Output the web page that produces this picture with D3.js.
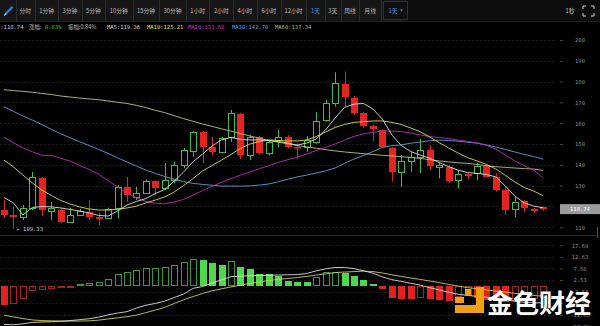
<!DOCTYPE html>
<html><head><meta charset="utf-8">
<script src="https://cdn.jsdelivr.net/npm/d3@7"></script>
<style>html,body{margin:0;padding:0;background:#000;overflow:hidden}svg{display:block}</style>
</head><body><svg id="c" width="600" height="326"></svg>
<script>
// ---------- data ----------
const openP  = [118.3,115.9,115.0,119.3,133.7,117.8,118.3,112.7,115.9,117.2,115.0,114.3,119.1,129.2,124.7,126.3,132.2,129.0,132.7,139.9,146.8,155.9,148.6,146.3,153.2,164.4,144.7,153.5,145.6,151.9,153.2,148.7,148.4,151.1,161.6,169.6,178.9,172.0,164.8,158.8,156.8,148.0,136.4,142.0,143.9,147.1,139.2,139.1,132.7,135.6,135.9,139.5,134.3,127.9,118.8,122.8,118.8,119.6];
const highP  = [123.1,119.8,120.7,136.6,134.2,122.2,119.0,119.4,118.8,123.1,116.9,119.4,130.3,134.2,129.5,133.0,132.5,140.8,141.5,148.1,156.4,156.2,153.4,153.5,166.4,165.0,154.3,154.0,152.0,156.8,154.3,150.4,153.9,165.3,171.2,184.5,184.8,173.1,165.5,159.3,157.0,148.5,144.7,146.3,152.4,149.5,141.0,139.8,137.5,135.9,140.8,140.0,135.9,129.5,124.7,123.0,119.4,120.0];
const lowP   = [114.5,109.33,113.5,118.3,115.4,113.5,112.0,112.5,115.4,113.5,111.1,114.0,114.3,122.2,123.1,126.0,125.5,127.9,131.1,138.5,143.9,140.8,144.7,145.7,151.0,142.7,142.3,145.0,144.5,148.4,148.0,142.7,146.3,150.2,160.8,168.0,168.0,164.0,157.8,151.2,148.0,131.9,129.5,136.7,136.0,137.5,133.5,131.1,128.7,133.1,132.7,133.9,127.1,115.9,114.8,117.5,117.0,118.0];
const closeP = [115.9,115.0,119.3,134.2,118.3,119.3,112.6,115.9,117.8,114.8,114.0,118.6,129.5,125.5,126.3,132.4,129.0,132.7,139.9,147.1,155.9,148.7,146.2,152.8,164.8,144.7,153.2,145.9,151.1,153.2,148.7,148.1,151.9,161.1,169.6,179.2,172.5,164.8,158.9,157.2,148.7,136.7,141.9,143.9,147.1,139.6,139.8,132.4,135.6,134.8,139.5,134.3,127.9,118.3,122.3,119.1,118.0,118.74];

const ma5  = [124.3,121.7,115.9,119.5,120.0,119.8,119.3,118.6,117.8,116.9,115.7,115.4,117.8,120.7,122.4,123.8,126.2,128.2,132.2,136.6,141.6,145.2,149.1,152.0,153.2,152.2,152.0,152.0,151.7,151.2,150.5,149.5,150.5,152.4,156.8,162.5,167.6,169.2,169.5,166.8,162.0,154.4,149.3,146.4,144.7,143.2,141.1,139.2,137.5,136.3,135.9,135.4,134.2,129.8,125.0,121.7,120.2,119.36];
const ma10 = [142.3,139.0,135.1,131.3,127.9,125.3,122.9,121.2,119.8,118.8,118.3,118.3,118.6,119.3,120.2,121.7,123.1,124.6,127.0,130.1,133.5,137.1,139.7,142.3,145.0,147.9,150.0,151.2,152.0,151.7,151.5,151.5,152.0,153.6,155.8,158.0,159.4,160.4,160.8,161.1,161.1,160.4,159.4,157.7,155.9,153.4,150.7,148.1,145.7,143.5,141.9,140.2,138.0,134.9,131.8,129.1,127.4,125.21];
const ma20 = [153.2,150.6,148.1,146.3,144.6,144.5,143.2,141.8,139.7,137.8,135.5,132.4,129.4,126.5,124.1,122.4,121.6,121.3,122.2,123.4,125.5,127.7,129.7,131.6,133.4,135.1,136.6,138.2,139.6,141.2,142.5,143.7,145.2,146.9,148.4,150.0,151.9,153.7,154.9,155.6,156.3,156.2,156.0,155.3,154.4,153.6,153.1,152.7,151.9,151.3,150.6,149.4,147.6,144.7,141.9,139.6,137.6,133.6];
const ma30 = [167.9,165.7,163.5,161.5,159.3,157.1,154.9,153.0,151.1,149.3,147.4,145.5,143.4,141.4,139.4,137.5,135.9,134.4,133.1,131.9,131.1,130.6,130.2,129.8,129.8,129.8,129.9,130.3,130.8,131.9,133.1,134.2,135.1,136.1,137.1,138.5,140.7,142.8,144.5,146.4,148.4,149.2,149.6,150.4,151.0,151.6,151.9,151.7,151.4,150.9,150.4,149.6,148.6,147.4,146.2,145.0,144.0,142.7];
const ma60 = [176.1,175.7,175.3,174.9,174.3,173.8,173.1,172.6,172.1,171.7,171.3,170.7,170.1,169.5,168.6,167.5,166.2,165.1,163.6,162.2,160.9,159.6,158.5,157.3,156.2,155.0,153.9,152.8,151.7,150.9,150.1,149.3,148.6,148.0,147.3,146.7,146.2,145.8,145.4,145.0,144.6,144.3,143.9,143.6,143.1,142.5,141.9,141.4,141.0,140.7,140.2,139.6,139.1,138.8,138.5,138.2,138.0,137.34];

const macdHist = [-8.4,-8.0,-5.8,-2.2,-1.9,-1.2,-1.1,-0.7,1.0,1.3,1.8,2.9,5.1,6.1,6.9,7.6,7.7,8.0,9.0,10.2,11.7,11.2,10.1,9.3,10.8,8.0,7.3,5.1,5.0,4.4,2.1,1.8,1.5,4.0,5.9,6.2,5.4,4.4,2.5,0.7,-1.4,-5.5,-5.8,-5.9,-5.3,-5.8,-6.2,-6.5,-5.0,-4.6,-5.5,-6.0,-6.5,-7.0,-6.5,-6.0,-5.8,-5.5];
const dif = [-16.9,-17.0,-16.6,-16.0,-15.8,-15.7,-15.5,-15.2,-14.8,-14.4,-13.7,-12.7,-11.9,-11.3,-9.7,-8.5,-7.7,-6.7,-5.1,-3.6,-1.1,-0.3,1.2,2.6,4.0,4.2,4.4,4.5,4.6,4.7,4.8,4.9,5.4,6.5,7.4,8.0,8.0,7.5,6.6,5.5,3.9,2.7,1.9,1.1,0.3,-0.8,-1.8,-2.8,-3.7,-4.2,-4.6,-5.0,-5.4,-6.0,-6.8,-7.2,-7.4,-7.5];
const dea = [-12.8,-13.6,-14.3,-14.9,-15.2,-15.3,-15.4,-15.4,-15.4,-15.3,-15.0,-14.5,-14.0,-13.5,-12.8,-11.7,-10.6,-9.4,-7.7,-6.1,-4.7,-3.3,-2.2,-1.3,-0.5,0.3,1.1,1.7,2.3,2.8,3.2,3.6,4.1,4.7,5.2,5.8,6.0,6.2,6.4,6.2,5.6,4.8,4.1,3.4,2.8,2.1,1.4,0.6,-0.1,-0.8,-1.3,-1.8,-2.3,-2.8,-3.3,-3.8,-4.2,-4.6];

const priceTicks = [110,120,130,140,150,160,170,180,190,200];
const macdTicks = [17.69,12.63,7.58,2.53,-2.53,-7.58,-12.63,-17.69];
const lastPrice = 118.74;
const lowMark = {index:1, value:109.33, label:"← 109.33"};

const toolbarLabels = ["分时","1分钟","3分钟","5分钟","10分钟","15分钟","30分钟","1小时","2小时","4小时","6小时","12小时","1天","3天","周线","月线"];
const toolbarEdges  = [15.7,35,58.3,81.7,105,132.7,159.3,186,209.3,233.3,256.7,281,306,325,340.7,359.3,381];
const selectedLabel = "1天";

const infoItems = [
  {t:"C:118.74", c:"#cfcfcf"},
  {t:"涨幅:", c:"#bdbdbd"}, {t:"0.83%", c:"#35c435"},
  {t:"振幅:0.84%", c:"#bdbdbd"},
  {t:"MA5:119.36", c:"#d8d8d8"},
  {t:"MA10:125.21", c:"#e6e62e"},
  {t:"MA20:133.60", c:"#d22ad2"},
  {t:"MA30:142.70", c:"#5aa7e6"},
  {t:"MA60:137.34", c:"#a9c46a"}
];
const infoX = [-3,29,45,68,107,147,188,232,275];

// ---------- setup ----------
const svg = d3.select("#c");
const W = 600;
const n = closeP.length;
const idx = d3.range(n);
const x = d3.scaleLinear().domain([0, n-1]).range([4, 543.2]);
const y = d3.scaleLinear().domain([110, 200]).range([227.3, 40]);
const ym = d3.scaleLinear().domain([-17.69, 17.69]).range([326.3, 245.3]);
const px = i => Math.round(x(i)) + 0.5;

const UP = "#3fbf3f", DOWN = "#e5231f";
const monoFont = "'DejaVu Sans Mono', monospace";
const cjkFont = "'Noto Sans CJK SC', 'Noto Sans', sans-serif";

svg.append("rect").attr("width", W).attr("height", 326).attr("fill", "#000");

// ---------- toolbar ----------
const tb = svg.append("g");
tb.append("rect").attr("x",0).attr("y",0).attr("width",W).attr("height",21).attr("fill","#0c0c0c");
tb.append("rect").attr("x",0).attr("y",0).attr("width",407).attr("height",21).attr("fill","#161616");
tb.selectAll("line.sep").data(toolbarEdges).join("line")
  .attr("x1", d=>Math.round(d)+0.5).attr("x2", d=>Math.round(d)+0.5)
  .attr("y1",0).attr("y2",21).attr("stroke","#2c2c2c");
tb.append("line").attr("x1",0).attr("x2",W).attr("y1",21.5).attr("y2",21.5).attr("stroke","#1e1e1e");
// pencil icon
tb.append("path").attr("d","M4,16 L5,13 L12,6 L13.5,7.5 L6.5,14.5 Z").attr("fill","#3b7fd0");
tb.append("path").attr("d","M4,16 L5,13 L6.5,14.5 Z").attr("fill","#9cc2ee");
// labels
tb.selectAll("text.tb").data(toolbarLabels).join("text")
  .attr("x",(d,i)=> (toolbarEdges[i] + (toolbarEdges[i+1] ?? 382)) / 2)
  .attr("y",12.8).attr("text-anchor","middle")
  .attr("font-family",cjkFont).attr("font-size",5.8)
  .attr("fill", d=> d===selectedLabel ? "#4a8fe0" : "#bdbdbd")
  .text(d=>d);
// dropdown box
tb.append("rect").attr("x",383.5).attr("y",1.5).attr("width",24).attr("height",18).attr("fill","#101010").attr("stroke","#2e2e2e");
tb.append("text").attr("x",393).attr("y",12.8).attr("text-anchor","middle")
  .attr("font-family",cjkFont).attr("font-size",5.8).attr("fill","#4a8fe0").text("1天");
tb.append("path").attr("d","M400,9.5 L403,9.5 L401.5,11.5 Z").attr("fill","#4a8fe0");
// right side
tb.append("text").attr("x",570).attr("y",12.8).attr("text-anchor","middle")
  .attr("font-family",cjkFont).attr("font-size",5.8).attr("fill","#bdbdbd").text("1秒");
tb.append("path")
  .attr("d","M583,6 h3 M583,6 v3 M594,6 h-3 M594,6 v3 M583,16 h3 M583,16 v-3 M594,16 h-3 M594,16 v-3")
  .attr("stroke","#cfcfcf").attr("stroke-width",1).attr("fill","none");

// ---------- info bar ----------
const info = svg.append("g");
infoItems.forEach((d,i)=>{
  info.append("text").attr("x",infoX[i]).attr("y",28.5)
    .attr("font-family", /[\u4e00-\u9fff]/.test(d.t) ? cjkFont : monoFont)
    .attr("font-size",5.5).attr("fill",d.c).text(d.t);
});

// ---------- price grid & axis ----------
svg.append("g").selectAll("line").data(priceTicks).join("line")
  .attr("x1",0).attr("x2",556)
  .attr("y1",d=>Math.round(y(d))+0.5).attr("y2",d=>Math.round(y(d))+0.5)
  .attr("stroke","#1c1c1c").attr("stroke-dasharray","2,2");
const pa = svg.append("g").attr("transform","translate(560,0)")
  .call(d3.axisRight(y).tickValues(priceTicks).tickSize(3).tickFormat(d3.format("d")));
pa.select(".domain").remove();
pa.selectAll(".tick line").attr("stroke","#444");
pa.selectAll(".tick text").attr("x",20).attr("text-anchor","middle")
  .attr("font-family",monoFont).attr("font-size",5.5).attr("fill","#8c8c8c");

// separator between panes
svg.append("line").attr("x1",0).attr("x2",596).attr("y1",235.5).attr("y2",235.5).attr("stroke","#2e2e2e");
svg.append("line").attr("x1",597.5).attr("x2",597.5).attr("y1",227).attr("y2",238).attr("stroke","#555");

// ---------- MA lines ----------
const maSeries = [
  {d:ma60, c:"#b9c47e"},
  {d:ma30, c:"#5b9fd8"},
  {d:ma20, c:"#c424c4"},
  {d:ma10, c:"#dede3a"},
  {d:ma5,  c:"#dcdcdc"}
];

// ---------- candles ----------
const cg = svg.append("g");
idx.forEach(i=>{
  const up = closeP[i] >= openP[i];
  const col = up ? UP : DOWN;
  const xc = px(i);
  const top = Math.round(y(Math.max(openP[i],closeP[i])));
  const bot = Math.round(y(Math.min(openP[i],closeP[i])));
  cg.append("line").attr("x1",xc).attr("x2",xc)
    .attr("y1",y(highP[i])).attr("y2",y(lowP[i])).attr("stroke",col).attr("stroke-width",1);
  if (up) {
    cg.append("rect").attr("x",xc-3).attr("y",top+0.5)
      .attr("width",6).attr("height",Math.max(1,bot-top))
      .attr("fill","#000").attr("stroke",col).attr("stroke-width",1);
  } else {
    cg.append("rect").attr("x",xc-3.5).attr("y",top)
      .attr("width",7).attr("height",Math.max(1.5,bot-top)).attr("fill",col);
  }
});

maSeries.forEach(s=>{
  svg.append("path").datum(s.d)
    .attr("d", d3.line().x((d,i)=>x(i)).y(d=>y(d)))
    .attr("fill","none").attr("stroke",s.c).attr("stroke-width",0.9);
});

// low marker
svg.append("text").attr("x",x(lowMark.index)+3).attr("y",y(lowMark.value)+2)
  .attr("font-family",monoFont).attr("font-size",5.5).attr("fill","#cfcfcf").text(lowMark.label);

// last price label
svg.append("rect").attr("x",560).attr("y",y(lastPrice)-5).attr("width",40).attr("height",10).attr("fill","#9b9b9b");
svg.append("text").attr("x",580).attr("y",y(lastPrice)+2).attr("text-anchor","middle")
  .attr("font-family",monoFont).attr("font-size",5.5).attr("fill","#ffffff").text(lastPrice.toFixed(2));

// ---------- MACD ----------
svg.append("g").selectAll("line").data(macdTicks).join("line")
  .attr("x1",0).attr("x2",556)
  .attr("y1",d=>Math.round(ym(d))+0.5).attr("y2",d=>Math.round(ym(d))+0.5)
  .attr("stroke","#1a1a1a").attr("stroke-dasharray","2,2");
const ma = svg.append("g").attr("transform","translate(560,0)")
  .call(d3.axisRight(ym).tickValues(macdTicks).tickSize(3).tickFormat(d=>d.toFixed(2)));
ma.select(".domain").remove();
ma.selectAll(".tick line").attr("stroke","#444");
ma.selectAll(".tick text").attr("x",20).attr("text-anchor","middle")
  .attr("font-family",monoFont).attr("font-size",5.5).attr("fill","#8c8c8c");

const hg = svg.append("g");
const z = ym(0);
idx.forEach(i=>{
  const v = macdHist[i];
  const prev = i>0 ? macdHist[i-1] : v;
  const pos = v >= 0;
  const growing = pos ? v >= prev : v <= prev;   // bar moving away from zero
  const filled = pos ? !growing : growing;
  const col = pos ? (filled ? "#4fd84f" : "#3a9a3a") : (filled ? "#e3221f" : "#a82020");
  const y0 = Math.round(Math.min(z, ym(v))), y1 = Math.round(Math.max(z, ym(v)));
  const xc = px(i);
  if (filled) {
    hg.append("rect").attr("x",xc-3.5).attr("y",y0).attr("width",7).attr("height",Math.max(1,y1-y0)).attr("fill",col);
  } else {
    hg.append("rect").attr("x",xc-3).attr("y",y0+0.5).attr("width",6).attr("height",Math.max(1,y1-y0-1))
      .attr("fill","none").attr("stroke",col).attr("stroke-width",1);
  }
});
svg.append("path").datum(dea).attr("d",d3.line().x((d,i)=>x(i)).y(d=>ym(d)))
  .attr("fill","none").attr("stroke","#cfcf45").attr("stroke-width",0.9);
svg.append("path").datum(dif).attr("d",d3.line().x((d,i)=>x(i)).y(d=>ym(d)))
  .attr("fill","none").attr("stroke","#dcdcdc").attr("stroke-width",0.9);

// ---------- watermark ----------
const wm = svg.append("g");
wm.append("path").attr("d","M476,287 h8 v26 h-29 v-8 h21 Z").attr("fill","#f0a010");
wm.append("rect").attr("x",465).attr("y",289).attr("width",6).attr("height",7).attr("fill","#f0a010");
wm.append("rect").attr("x",455).attr("y",297).attr("width",9).attr("height",6).attr("fill","#f0a010");
wm.append("text").attr("x",487).attr("y",313).attr("font-family",cjkFont).attr("font-weight","bold")
  .attr("font-size",26).attr("fill","#ffffff").attr("letter-spacing",0).text("金色财经");
</script></body></html>
